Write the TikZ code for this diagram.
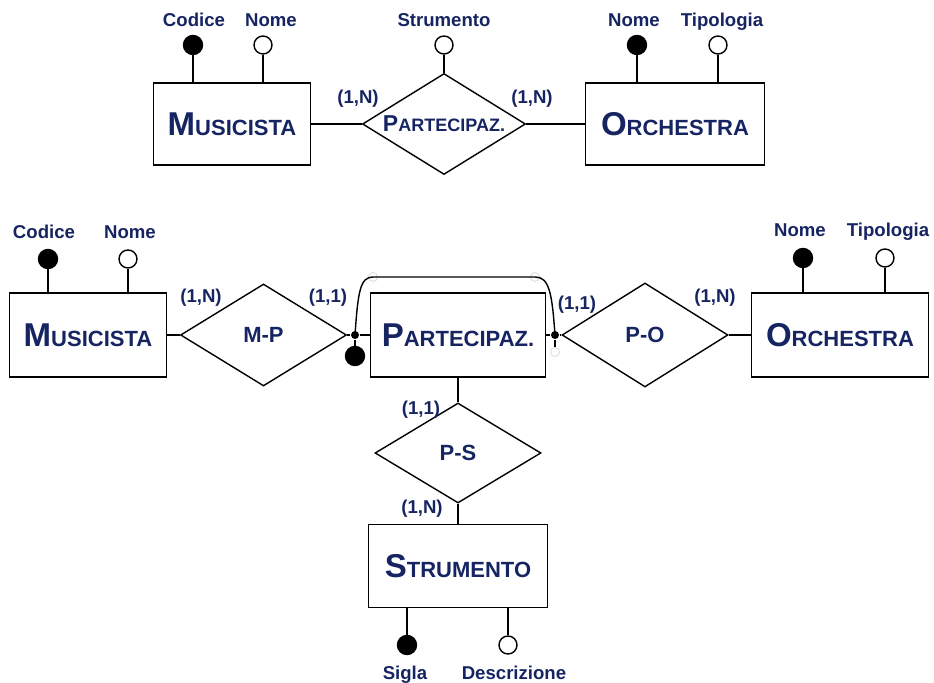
\documentclass[tikz,border=0pt]{standalone}
\usepackage{fontspec}
\setmainfont{Liberation Sans}
\usetikzlibrary{shapes,positioning}
\definecolor{ernavy}{RGB}{22,36,98}
\newcommand{\entname}[2]{{\fontsize{16.5}{18}\selectfont #1}{\fontsize{11}{13}\selectfont #2}}

\begin{document}
\begin{tikzpicture}[x=0.5pt,y=-0.5pt,line width=0.7pt,
    entity/.style={draw,rectangle,inner sep=0pt,minimum height=42pt,text=ernavy,font=\bfseries},
    relship/.style={draw,diamond,aspect=1.65,inner sep=0pt,minimum width=83pt,minimum height=51pt,text=ernavy,font=\bfseries\fontsize{11}{13}\selectfont},
    lbl/.style={text=ernavy,font=\bfseries\fontsize{9.3}{11}\selectfont,inner sep=1pt,text height=7pt,text depth=2pt,yshift=-1pt},
    keyattr/.style={circle,draw,fill=black,inner sep=0pt,minimum size=9.5pt},
    attr/.style={circle,draw,fill=white,inner sep=0pt,minimum size=9pt},
    jdot/.style={circle,fill=black,inner sep=0pt,minimum size=4pt},
    ghost/.style={circle,draw=gray!25,line width=0.5pt,inner sep=0pt,minimum size=4.5pt}]
      \useasboundingbox (0,0) rectangle (934,683);
      % first schema
      \node (M1) [entity,minimum width=78.5pt,minimum height=41pt] at (232,124) {\entname{M}{USICISTA}};
      \node (O1) [entity,minimum width=89.5pt,minimum height=41pt] at (675,124) {\entname{O}{RCHESTRA}};
      \node (PT) [relship,minimum width=81.5pt,minimum height=50.5pt] at (444,124) {{\fontsize{11.5}{13}\selectfont P}{\fontsize{9}{11}\selectfont ARTECIPAZ.}};
      \node (c1) [keyattr] at (193,45) {};
      \node (c2) [attr] at (263,45) {};
      \node (c3) [attr] at (444,45) {};
      \node (c4) [keyattr] at (637,45) {};
      \node (c5) [attr] at (718,45) {};
      \node (t1) [lbl] at (194,20) {Codice};
      \node (t2) [lbl] at (271,20) {Nome};
      \node (t3) [lbl] at (444,20) {Strumento};
      \node (t4) [lbl] at (634,20) {Nome};
      \node (t5) [lbl] at (722,20) {Tipologia};
      \node (k1) [lbl] at (358,97) {(1,N)};
      \node (k2) [lbl] at (532,97) {(1,N)};
      \draw (M1) -- (PT) -- (O1);
      \draw (c1) -- (c1 |- M1.north);
      \draw (c2) -- (c2 |- M1.north);
      \draw (c3) -- (PT.north);
      \draw (c4) -- (c4 |- O1.north);
      \draw (c5) -- (c5 |- O1.north);
      % second schema
      \node (M2) [entity,minimum width=78.5pt] at (88,335) {\entname{M}{USICISTA}};
      \node (P2) [entity,minimum width=87.5pt] at (458,335) {\entname{P}{ARTECIPAZ.}};
      \node (O2) [entity,minimum width=88.5pt] at (840,335) {\entname{O}{RCHESTRA}};
      \node (S2) [entity,minimum width=89.5pt,minimum height=41.5pt] at (458,566) {\entname{S}{TRUMENTO}};
      \node (MP) [relship] at (263.5,335) {M-P};
      \node (PO) [relship,minimum height=52pt] at (645,335) {P-O};
      \node (PS) [relship,minimum height=50pt] at (458,453) {P-S};
      \node (d1) [jdot] at (355,335) {};
      \node (d2) [jdot] at (555,335) {};
      \node (b1) [keyattr] at (355,356) {};
      \node (g1) [ghost] at (373,277) {};
      \node (g2) [ghost] at (535,277) {};
      \node (g3) [ghost] at (555,352) {};
      \node (a1) [keyattr] at (48,259) {};
      \node (a2) [attr] at (128,259) {};
      \node (a3) [keyattr] at (803,258) {};
      \node (a4) [attr] at (885,258) {};
      \node (a5) [keyattr] at (407,645) {};
      \node (a6) [attr] at (508,645) {};
      \node (n1) [lbl] at (44,232) {Codice};
      \node (n2) [lbl] at (130,232) {Nome};
      \node (n3) [lbl] at (800,230) {Nome};
      \node (n4) [lbl] at (888,230) {Tipologia};
      \node (n5) [lbl] at (405,673) {Sigla};
      \node (n6) [lbl] at (514,673) {Descrizione};
      \node (q1) [lbl] at (201,296) {(1,N)};
      \node (q2) [lbl] at (328,296) {(1,1)};
      \node (q3) [lbl] at (577,303) {(1,1)};
      \node (q4) [lbl] at (715,296) {(1,N)};
      \node (q5) [lbl] at (421,408) {(1,1)};
      \node (q6) [lbl] at (422,507) {(1,N)};
      \draw (M2) -- (MP) -- (d1) -- (P2);
      \draw (P2) -- (d2) -- (PO) -- (O2);
      \draw (P2) -- (PS) -- (S2);
      \draw (d1) -- (b1);
      \draw (d2) -- (g3);
      \draw (d1.center) .. controls (358,292) and (360,277) .. (g1.center) -- (g2.center) .. controls (549,277) and (552,292) .. (d2.center);
      \draw (a1) -- (a1 |- M2.north);
      \draw (a2) -- (a2 |- M2.north);
      \draw (a3) -- (a3 |- O2.north);
      \draw (a4) -- (a4 |- O2.north);
      \draw (a5) -- (a5 |- S2.south);
      \draw (a6) -- (a6 |- S2.south);
\end{tikzpicture}
\end{document}
